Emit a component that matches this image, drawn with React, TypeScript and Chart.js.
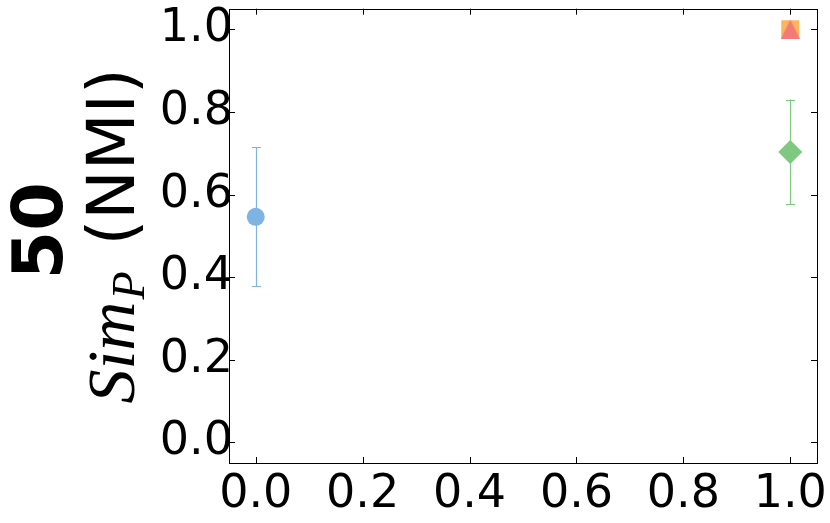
import React, { useEffect, useRef } from "react";
import { Chart, registerables } from "chart.js";

Chart.register(...registerables);

// ---- data ----
const SERIES_NAMES = ["blue", "green", "orange", "red"];
const SERIES_X = [0.0, 1.0, 1.0, 1.0];
const SERIES_Y = [0.546, 0.703, 1.0, 1.0];
const SERIES_ERR = [0.168, 0.127, 0, 0];
const X_TICKS = [0.0, 0.2, 0.4, 0.6, 0.8, 1.0];
const Y_TICKS = [0.0, 0.2, 0.4, 0.6, 0.8, 1.0];
const AXIS_MIN = -0.05;
const AXIS_MAX = 1.05;
const LABEL_TOP = "50";
const LABEL_MAIN = "Sim";
const LABEL_SUB = "P";
const LABEL_UNIT = "(NMI)";

const COLORS = ["#7db4e4", "#7ec97f", "#fdb45c", "#f47a78"];
const MAIN_FONT = "italic 68px 'Liberation Serif'";
const SUB_FONT = "italic 46px 'Liberation Serif'";
const UNIT_FONT = "66px 'DejaVu Sans'";
const SHIFT = 4;

function makeTriangle(color: string, size: number) {
  const c = document.createElement("canvas");
  c.width = size;
  c.height = size;
  const g = c.getContext("2d")!;
  g.fillStyle = color;
  g.beginPath();
  g.moveTo(size / 2, 0);
  g.lineTo(size, size);
  g.lineTo(0, size);
  g.closePath();
  g.fill();
  return c;
}

const frameTicks = {
  id: "frameTicks",
  afterDatasetsDraw(chart: any) {
    const { ctx, chartArea: a, scales } = chart;
    ctx.save();
    ctx.strokeStyle = "#000";
    ctx.lineWidth = 1;
    ctx.strokeRect(Math.round(a.left) + 0.5, Math.round(a.top) + 0.5, Math.round(a.right - a.left), Math.round(a.bottom - a.top));
    const L = 6;
    ctx.beginPath();
    X_TICKS.forEach((v) => {
      const px = Math.round(scales.x.getPixelForValue(v)) + 0.5;
      ctx.moveTo(px, a.bottom);
      ctx.lineTo(px, a.bottom - L);
      ctx.moveTo(px, a.top);
      ctx.lineTo(px, a.top + L);
    });
    Y_TICKS.forEach((v) => {
      const py = Math.round(scales.y.getPixelForValue(v)) + 0.5;
      ctx.moveTo(a.left, py);
      ctx.lineTo(a.left + L, py);
      ctx.moveTo(a.right, py);
      ctx.lineTo(a.right - L, py);
    });
    ctx.stroke();
    ctx.restore();
  },
};

const errorBars = {
  id: "errorBars",
  beforeDatasetsDraw(chart: any) {
    const { ctx, scales } = chart;
    ctx.save();
    ctx.lineWidth = 1.2;
    SERIES_Y.forEach((y, i) => {
      const e = SERIES_ERR[i];
      if (!e) return;
      const px = Math.round(scales.x.getPixelForValue(SERIES_X[i])) + 0.5;
      const top = scales.y.getPixelForValue(y + e);
      const bot = scales.y.getPixelForValue(y - e);
      ctx.strokeStyle = COLORS[i];
      ctx.beginPath();
      ctx.moveTo(px, top);
      ctx.lineTo(px, bot);
      ctx.moveTo(px - 4.5, Math.round(top) + 0.5);
      ctx.lineTo(px + 4.5, Math.round(top) + 0.5);
      ctx.moveTo(px - 4.5, Math.round(bot) + 0.5);
      ctx.lineTo(px + 4.5, Math.round(bot) + 0.5);
      ctx.stroke();
    });
    ctx.restore();
  },
};

const yLabel = {
  id: "yLabel",
  afterDraw(chart: any) {
    const { ctx, chartArea: a } = chart;
    const cy = (a.top + a.bottom) / 2;
    ctx.save();
    ctx.fillStyle = "#000";
    ctx.save();
    ctx.translate(62, cy - 5);
    ctx.rotate(-Math.PI / 2);
    ctx.font = "bold 70px 'DejaVu Sans'";
    ctx.textAlign = "center";
    ctx.textBaseline = "alphabetic";
    ctx.fillText(LABEL_TOP, 0, 0);
    ctx.restore();
    ctx.font = MAIN_FONT;
    const wMain = ctx.measureText(LABEL_MAIN).width;
    ctx.font = SUB_FONT;
    const wSub = ctx.measureText(LABEL_SUB).width;
    ctx.font = UNIT_FONT;
    const wUnit = ctx.measureText(LABEL_UNIT).width;
    const gap = 26;
    const total = wMain + 2 + wSub + gap + wUnit;
    ctx.translate(134, cy);
    ctx.rotate(-Math.PI / 2);
    ctx.textAlign = "left";
    ctx.textBaseline = "alphabetic";
    let x = -total / 2;
    ctx.font = MAIN_FONT;
    ctx.fillText(LABEL_MAIN, x, 0);
    x += wMain + 2;
    ctx.font = SUB_FONT;
    ctx.fillText(LABEL_SUB, x, 10);
    x += wSub + gap;
    ctx.font = UNIT_FONT;
    ctx.fillText(LABEL_UNIT, x, 0);
    ctx.restore();
  },
};

export default function App() {
  const ref = useRef<HTMLCanvasElement | null>(null);
  useEffect(() => {
    const styles: any[] = ["circle", "rectRot", "rect", makeTriangle(COLORS[3], 19)];
    const radii = [9, 12, 12.7, 10];
    const orders = [2, 2, 1, 0];
    const datasets = SERIES_NAMES.map((name, i) => ({
      label: name,
      data: [{ x: SERIES_X[i], y: SERIES_Y[i] }],
      pointStyle: styles[i],
      pointRadius: radii[i],
      backgroundColor: COLORS[i],
      borderColor: COLORS[i],
      borderWidth: 0,
      showLine: false,
      order: orders[i],
    }));
    const chart = new Chart(ref.current!, {
      type: "scatter",
      data: { datasets },
      options: {
        responsive: false,
        animation: false,
        layout: { padding: { left: 0, top: 9, right: 13, bottom: 0 } },
        plugins: { legend: { display: false }, tooltip: { enabled: false } },
        scales: {
          x: {
            type: "linear",
            min: AXIS_MIN,
            max: AXIS_MAX,
            afterBuildTicks: (s: any) => {
              s.ticks = X_TICKS.map((v) => ({ value: v }));
            },
            afterFit: (s: any) => {
              s.height = 60;
              s.paddingLeft = 0;
              s.paddingRight = 0;
            },
            grid: { display: false, drawTicks: false },
            border: { display: false },
            ticks: {
              font: { family: "'DejaVu Sans'", size: 46, lineHeight: 1.2 },
              color: "#000",
              padding: 4,
              maxRotation: 0,
              autoSkip: false,
              callback: (v: any) => Number(v).toFixed(1),
            },
          },
          y: {
            type: "linear",
            min: AXIS_MIN,
            max: AXIS_MAX,
            afterBuildTicks: (s: any) => {
              s.ticks = Y_TICKS.map((v) => ({ value: v }));
            },
            afterFit: (s: any) => {
              s.width = 229;
              s.paddingTop = 0;
              s.paddingBottom = 0;
            },
            grid: { display: false, drawTicks: false },
            border: { display: false },
            ticks: {
              font: { family: "'DejaVu Sans'", size: 46, lineHeight: 0.6 },
              color: "#000",
              padding: -4,
              autoSkip: false,
              callback: (v: any) => Number(v).toFixed(1),
            },
          },
        },
      },
      plugins: [errorBars, frameTicks, yLabel],
    });
    return () => chart.destroy();
  }, []);
  return (
    <div style={{ position: "absolute", left: 0, top: 0, width: 830, height: 523, overflow: "hidden", background: "#fff" }}>
      <canvas ref={ref} width={830} height={523 + SHIFT} style={{ display: "block", marginTop: -SHIFT }} />
    </div>
  );
}
